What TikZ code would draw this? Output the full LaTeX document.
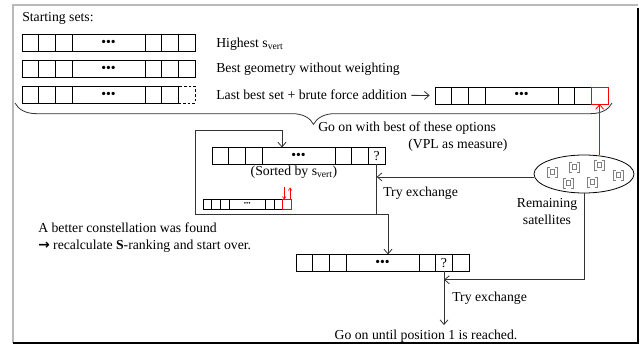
\documentclass[tikz,border=0pt]{standalone}
\usepackage{fontspec}
\setmainfont{Liberation Serif}
\newfontfamily\arrowfont{DejaVu Sans}
\usetikzlibrary{positioning,arrows.meta,shapes.geometric,decorations.pathreplacing}
\tikzset{
	>={Straight Barb[length=3.5pt,width=6pt]}
}
% one row of a set: 3 cells, the dots cell, 3 cells
\newcommand{\cellrow}[4]{%
	\node [cell #3, anchor=west] (#1-1) at (#2) {};
	\node [cell #3, right=0pt of #1-1] (#1-2) {};
	\node [cell #3, right=0pt of #1-2] (#1-3) {};
	\node [dots #3, right=0pt of #1-3] (#1-4) {\textbullet\textbullet\textbullet};
	\node [cell #3, right=0pt of #1-4] (#1-5) {};
	\node [cell #3, right=0pt of #1-5] (#1-6) {};
	\node [cell #3, #4, right=0pt of #1-6] (#1-7) {};
}

\begin{document}
\begin{tikzpicture}[
x = 0.75pt, y = -0.75pt,
every node/.style = {
	font = \fontsize{10.3}{12.75}\selectfont
},
txt/.style = {
	anchor = west,
	inner sep = 0pt
},
cell big/.style = {
	draw,
	line width = 0.5pt,
	inner sep = 0pt,
	outer sep = 0pt,
	minimum width = 12.5pt,
	minimum height = 12.75pt
},
dots big/.style = {
	cell big,
	minimum width = 54.75pt
},
cell small/.style = {
	cell big,
	minimum width = 6.6pt,
	minimum height = 7.5pt
},
dots small/.style = {
	cell small,
	minimum width = 26.8pt,
	font = \fontsize{5}{6}\selectfont
},
conn/.style = {
	line width = 0.6pt,
	black!80
},
small tip/.style = {
	line width = 0.45pt,
	>={Straight Barb[length=1.8pt,width=2.6pt]}
},
brace line/.style = {
	decorate,
	decoration = {brace, mirror, amplitude=16pt},
	line width = 0.6pt,
	black!80
},
sat icon/.pic = {
	\draw[gray, line width=0.45pt] (-2.5,-5) -| (-5,5) -- (-2.5,5);
	\draw[gray, line width=0.45pt] (2.5,-5) -| (5,5) -- (2.5,5);
	\draw[gray, line width=0.45pt] (-2.2,-2.2) rectangle (2.2,2.2);
}
]

\useasboundingbox (0,0) rectangle (643,345);
\draw[gray!55, line width=0.8pt] (13,343) |- (638,5);
\draw[line width=0.9pt] (638,8) |- (13,343);

\node [txt] (start) at (22,18) {Starting sets:};

\cellrow{r1}{22,43}{big}{}
\cellrow{r2}{22,69}{big}{}
\cellrow{r3}{22,95}{big}{dashed, dash pattern=on 2pt off 1.5pt}
\cellrow{r4}{435,95.5}{big}{red}

\node [txt] (high) at (216,44) {Highest s\textsubscript{vert}};
\node [txt] (geom) at (216,69) {Best geometry without weighting};
\node [txt] (last) at (216,95) {Last best set + brute force addition};
\draw[conn, ->, shorten <=3pt, shorten >=4pt] (last) -- (r4-1);

\draw[brace line] (15,103) -- (612,103);
\node [txt] (goon) at (318,128) {Go on with best of these options};
\node [txt] (vpl) at (408,145) {(VPL as measure)};

% sorted set, the last set and the box round the first
\cellrow{r5}{212,156}{big}{}
\node [inner sep=0pt] (q5) at (r5-7) {?};
\node (sorted) at (294,172) {(Sorted by s\textsubscript{vert})};
\cellrow{rs}{203,204.5}{small}{red}
\draw[red, small tip, ->] ([xshift=-2.2pt, yshift=9pt]rs-7.north) -- ([xshift=-2.2pt]rs-7.north);
\draw[red, small tip, ->] ([xshift=2.2pt]rs-7.north) -- ([xshift=2.2pt, yshift=9pt]rs-7.north);
\cellrow{r6}{296,263}{big}{}
\node [inner sep=0pt] (q6) at (r6-6) {?};

\coordinate (boxbl) at (195,214);
\coordinate (boxtr) at (282,130);
\coordinate (turn) at (388,214);
\draw[conn, ->] (r5-7.south) |- (boxbl) |- (boxtr) -- (boxtr |- r5-4.north);
\draw[conn, ->] (r5-7.south) |- (turn) -- (turn |- r6-4.north);
\node [txt] (try1) at (383,193) {Try exchange};

% remaining satellites
\node [ellipse, draw, line width=0.6pt, inner sep=0pt, minimum width=75pt, minimum height=28.5pt] (sat) at (584,174) {};
\pic (s1) at (552,172) {sat icon};
\pic (s2) at (574,167) {sat icon};
\pic (s3) at (599,165) {sat icon};
\pic (s4) at (618,175) {sat icon};
\pic (s5) at (568,183) {sat icon};
\pic (s6) at (592,182) {sat icon};
\node [align=center] (remain) at (547,211.5) {Remaining\\satellites};
\draw[conn, red, ->] (sat.north -| r4-7.south) -- (r4-7.south);
\draw[conn, ->] ([yshift=-2.2pt]sat.west) -- ([yshift=-2.2pt]sat.west -| r5-7.south);

\node [txt] (better) at (38,228) {A better constellation was found};
\node [txt] (redo) at (38,246) {{\arrowfont\bfseries →} recalculate \textbf{S}-ranking and start over.};

\coordinate (swap) at ([yshift=-6.2pt]r6-6.south);
\draw[conn, ->] (sat.south) |- (swap);
\node (goal) at (426,336) {Go on until position 1 is reached.};
\draw[conn, ->] (r6-6.south) -- (r6-6.south |- goal.north);
\node [txt] (try2) at (452,298) {Try exchange};

\end{tikzpicture}
\end{document}
